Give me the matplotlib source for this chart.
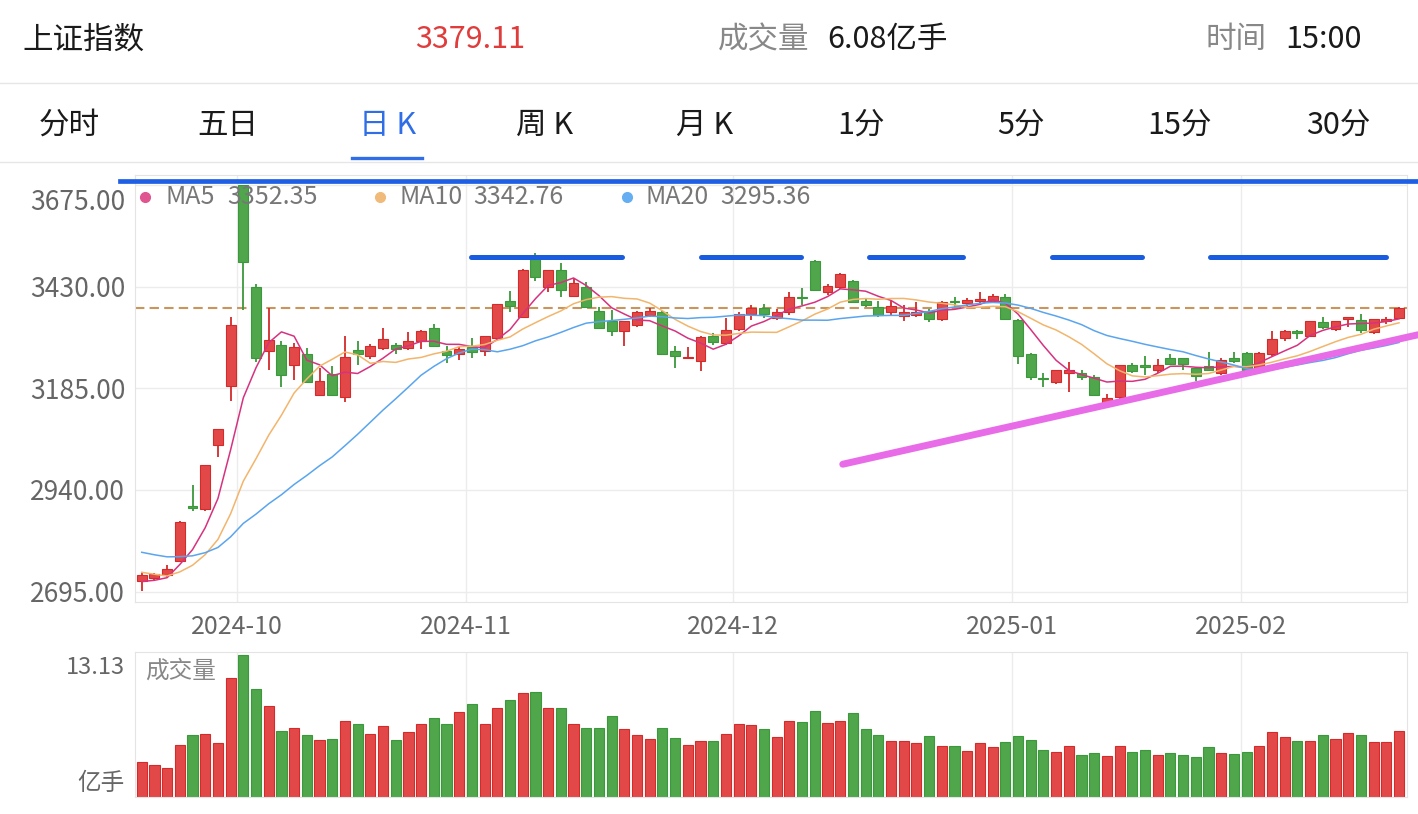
import numpy as np
import pandas as pd
import matplotlib
matplotlib.use('Agg')
import matplotlib.pyplot as plt
from matplotlib.lines import Line2D
from matplotlib.transforms import ScaledTranslation

plt.rcParams['font.family'] = ['Noto Sans CJK SC', 'DejaVu Sans']

# ---- data (上证指数 daily K, 2024-09-19 .. 2025-02-21) ----
dates = ['09-19', '09-20', '09-23', '09-24', '09-25', '09-26', '09-27', '09-30',
         '10-08', '10-09', '10-10', '10-11', '10-14', '10-15', '10-16', '10-17', '10-18',
         '10-21', '10-22', '10-23', '10-24', '10-25', '10-28', '10-29', '10-30', '10-31',
         '11-01', '11-04', '11-05', '11-06', '11-07', '11-08', '11-11', '11-12', '11-13',
         '11-14', '11-15', '11-18', '11-19', '11-20', '11-21', '11-22', '11-25', '11-26',
         '11-27', '11-28', '11-29',
         '12-02', '12-03', '12-04', '12-05', '12-06', '12-09', '12-10', '12-11', '12-12',
         '12-13', '12-16', '12-17', '12-18', '12-19', '12-20', '12-23', '12-24', '12-25',
         '12-26', '12-27', '12-30', '12-31',
         '01-02', '01-03', '01-06', '01-07', '01-08', '01-09', '01-10', '01-13', '01-14',
         '01-15', '01-16', '01-17', '01-20', '01-21', '01-22', '01-23', '01-24', '01-27',
         '02-05', '02-06', '02-07', '02-10', '02-11', '02-12', '02-13', '02-14', '02-17',
         '02-18', '02-19', '02-20', '02-21']

open_ = np.array([2721, 2729, 2735, 2770, 2901, 2893, 3049, 3190,
                  3674, 3428, 3276, 3290, 3240, 3267, 3170, 3219, 3165,
                  3277, 3263, 3283, 3290, 3281, 3298, 3330, 3274, 3267,
                  3285, 3275, 3306, 3396, 3358, 3496, 3430, 3470, 3407,
                  3430, 3371, 3346, 3323, 3337, 3362, 3370, 3276, 3257,
                  3251, 3310, 3295,
                  3328, 3363, 3378, 3355, 3370, 3405, 3492, 3416, 3430,
                  3444, 3395, 3382, 3370, 3360, 3362, 3371, 3352, 3396,
                  3390, 3396, 3396, 3406,
                  3350, 3268, 3210, 3200, 3221, 3222, 3212, 3150, 3163,
                  3240, 3242, 3228, 3258, 3257, 3233, 3239, 3222, 3259,
                  3271, 3232, 3267, 3306, 3324, 3312, 3345, 3328, 3351,
                  3350, 3320, 3346, 3354], dtype=float)
high = np.array([2740, 2741, 2758, 2866, 2952, 3001, 3088, 3358,
                 3674, 3437, 3378, 3298, 3294, 3283, 3233, 3239, 3312,
                 3300, 3291, 3330, 3294, 3320, 3325, 3339, 3287, 3285,
                 3306, 3312, 3388, 3420, 3472, 3510, 3471, 3488, 3450,
                 3441, 3382, 3374, 3347, 3372, 3378, 3372, 3286, 3285,
                 3311, 3318, 3355,
                 3368, 3386, 3387, 3376, 3418, 3426, 3494, 3437, 3463,
                 3445, 3402, 3395, 3398, 3386, 3392, 3375, 3396, 3406,
                 3402, 3418, 3412, 3413,
                 3352, 3270, 3222, 3230, 3249, 3228, 3216, 3171, 3242,
                 3245, 3264, 3255, 3267, 3258, 3235, 3273, 3259, 3273,
                 3272, 3272, 3324, 3325, 3326, 3348, 3358, 3348, 3358,
                 3364, 3353, 3356, 3382], dtype=float)
low = np.array([2697, 2722, 2730, 2766, 2889, 2889, 3020, 3155,
                3374, 3249, 3229, 3189, 3205, 3198, 3167, 3168, 3152,
                3240, 3255, 3278, 3267, 3277, 3280, 3285, 3245, 3253,
                3257, 3264, 3300, 3368, 3355, 3444, 3418, 3404, 3405,
                3378, 3328, 3310, 3286, 3332, 3357, 3265, 3233, 3255,
                3227, 3290, 3290,
                3322, 3350, 3355, 3350, 3362, 3386, 3420, 3410, 3425,
                3390, 3380, 3358, 3362, 3347, 3358, 3345, 3348, 3380,
                3384, 3388, 3390, 3350,
                3243, 3206, 3187, 3195, 3177, 3206, 3168, 3141, 3160,
                3222, 3217, 3222, 3240, 3229, 3203, 3226, 3218, 3246,
                3226, 3226, 3264, 3299, 3304, 3308, 3328, 3324, 3333,
                3318, 3315, 3340, 3353], dtype=float)
close = np.array([2736.02, 2736.81, 2748.92, 2863.13, 2896.31, 3000.95, 3087.53, 3336.50,
                  3489.78, 3258.86, 3301.93, 3217.74, 3284.32, 3201.29, 3202.95, 3169.38, 3261.56,
                  3268.11, 3285.87, 3302.80, 3280.26, 3299.70, 3322.20, 3286.41, 3266.24, 3279.82,
                  3272.01, 3310.21, 3386.99, 3383.81, 3470.66, 3452.30, 3470.07, 3421.97, 3439.28,
                  3379.84, 3330.73, 3323.85, 3346.01, 3367.99, 3370.40, 3267.19, 3263.76, 3259.76,
                  3309.78, 3295.70, 3326.46,
                  3363.98, 3378.81, 3364.65, 3368.07, 3404.08, 3402.53, 3422.66, 3432.49, 3461.50,
                  3391.88, 3386.33, 3361.49, 3382.21, 3370.03, 3368.07, 3351.26, 3393.53, 3393.35,
                  3398.08, 3400.14, 3407.33, 3351.76,
                  3262.56, 3211.43, 3206.92, 3229.64, 3230.17, 3211.39, 3168.52, 3160.76, 3240.94,
                  3227.12, 3236.03, 3241.82, 3244.38, 3242.62, 3213.62, 3230.16, 3252.63, 3250.60,
                  3229.49, 3270.66, 3303.67, 3322.17, 3318.06, 3346.39, 3332.48, 3346.72, 3355.83,
                  3324.49, 3351.54, 3350.78, 3379.11])
# closes before the window (2024-08-21 .. 09-18), needed for the moving averages
pre_close = np.array([2856.58, 2848.77, 2854.37, 2855.52, 2848.73, 2837.43, 2823.11, 2842.21,
                      2811.04, 2802.98, 2784.28, 2788.31, 2765.81, 2736.49, 2744.19, 2721.80,
                      2717.12, 2704.09, 2717.28])
volume = np.array([3.23, 2.98, 2.68, 4.83, 5.72, 5.78, 4.95, 11.01,
                   13.13, 9.93, 8.36, 6.09, 6.33, 5.69, 5.23, 5.35, 6.98,
                   6.70, 5.78, 6.52, 5.23, 5.97, 6.77, 7.29, 6.70, 7.87,
                   8.55, 6.70, 8.24, 8.98, 9.59, 9.66, 8.18, 8.18, 6.77,
                   6.33, 6.33, 7.44, 6.30, 5.72, 5.35, 6.33, 5.44, 4.77,
                   5.14, 5.14, 5.84,
                   6.70, 6.64, 6.24, 5.50, 6.98, 6.95, 7.96, 6.83, 7.01,
                   7.78, 6.27, 5.72, 5.14, 5.14, 4.95, 5.60, 4.74, 4.74,
                   4.27, 5.01, 4.58, 5.04,
                   5.66, 5.23, 4.37, 4.12, 4.74, 3.84, 4.09, 3.75, 4.74,
                   4.12, 4.37, 3.87, 4.09, 3.91, 3.69, 4.64, 4.03, 3.94,
                   4.12, 4.67, 6.03, 5.50, 5.14, 5.17, 5.72, 5.35, 5.93,
                   5.69, 5.04, 5.07, 6.08])

price_ticks = [2695, 2940, 3185, 3430, 3675]
month_first = ['10-08', '11-01', '12-02', '01-02', '02-05']
month_labels = ['2024-10', '2024-11', '2024-12', '2025-01', '2025-02']
tabs = ['分时', '五日', '日 K', '周 K', '月 K', '1分', '5分', '15分', '30分']

# hand-drawn annotations (bar index, price)
top_line = (-1.7, 100.5, 3685)
resist_level = 3501
resist_segments = [(25.9, 37.8), (44.0, 51.9), (57.3, 64.7), (71.7, 78.8), (84.1, 98.0)]
trend_pts = [(55.2, 3002), (100.5, 3314)]

# ---- figure ----
W, H = 1418, 814
fig = plt.figure(figsize=(W / 100, H / 100), dpi=100)


def fx(px):
    return px / W


def fy(py):
    return 1 - py / H


RED, GREEN = '#e34848', '#4fa64b'
RED_E, GREEN_E = '#d42a2a', '#3c983c'
GRID = '#ececec'
HS = 22  # header font size

# header
fig.text(fx(22), fy(40), '上证指数', fontsize=HS, color='#1a1a1a', va='center')
fig.text(fx(470), fy(40), f'{close[-1]:.2f}', fontsize=HS, color='#e03c3c', va='center', ha='center')
fig.text(fx(718), fy(40), '成交量', fontsize=HS, color='#888888', va='center')
fig.text(fx(827), fy(40), f'{volume[-1]:.2f}亿手', fontsize=HS, color='#1a1a1a', va='center')
fig.text(fx(1205), fy(40), '时间', fontsize=HS, color='#888888', va='center')
fig.text(fx(1285), fy(40), '15:00', fontsize=HS, color='#1a1a1a', va='center')
for yy in (83, 162):
    fig.add_artist(Line2D([0, 1], [fy(yy), fy(yy)], transform=fig.transFigure, color='#e6e6e6', lw=1))

tab_x = [69, 228, 388, 545, 705, 861, 1021, 1179, 1338]
for t, xx in zip(tabs, tab_x):
    fig.text(fx(xx), fy(125), t, fontsize=HS, color='#2f6ee6' if t == '日 K' else '#1a1a1a',
             va='center', ha='center')
fig.add_artist(Line2D([fx(352), fx(422)], [fy(158), fy(158)], transform=fig.transFigure,
                      color='#2f6ee6', lw=2.4))

# ---- price axes ----
ax = fig.add_axes([fx(135), fy(602), fx(1407 - 135), (602 - 175) / H])
x = np.arange(len(close))
up = close >= open_
cols = np.where(up, RED, GREEN)
ecols = np.where(up, RED_E, GREEN_E)

allc = pd.Series(np.concatenate([pre_close, close]))
n0 = len(pre_close)
ma5 = allc.rolling(5).mean().values[n0:]
ma10 = allc.rolling(10).mean().values[n0:]
ma20 = allc.rolling(20).mean().values[n0:]

ax.vlines(x, low, high, colors=ecols, linewidth=1.3, zorder=3)
body_h = np.maximum(np.abs(close - open_), 2.0)
ax.bar(x, body_h, bottom=np.minimum(open_, close), width=0.78, color=cols,
       edgecolor=ecols, linewidth=0.8, zorder=4)

ax.plot(x, ma5, color='#d6327f', lw=1.1, zorder=5)
ax.plot(x, ma10, color='#f2b56b', lw=1.1, zorder=5)
ax.plot(x, ma20, color='#5aa5ee', lw=1.1, zorder=5)

ax.axhline(close[-1], color='#c9955c', lw=1.5, ls=(0, (4.5, 2.5)), zorder=2)

ax.set_xlim(-0.53, 99.63)
ax.set_ylim(2670, 3699)
ax.set_yticks(price_ticks)
ax.set_yticklabels([f'{v:.2f}' for v in price_ticks])
month_pos = [dates.index(d) - 0.47 for d in month_first]
ax.set_xticks(month_pos)
ax.set_xticklabels(month_labels)
ax.tick_params(length=0, labelcolor='#666666')
ax.tick_params(axis='y', pad=7, labelsize=19)
ax.tick_params(axis='x', pad=9, labelsize=18)
ax.grid(True, color=GRID, lw=1)
ax.set_axisbelow(True)
for s in ax.spines.values():
    s.set_color('#e4e4e4')
top_lab = ax.get_yticklabels()[-1]
top_lab.set_transform(top_lab.get_transform() + ScaledTranslation(0, -0.15, fig.dpi_scale_trans))

# annotations
ax.plot([top_line[0], top_line[1]], [top_line[2]] * 2, color='#1f5fe6', lw=3.4,
        clip_on=False, zorder=6)
for a, b in resist_segments:
    ax.plot([a, b], [resist_level] * 2, color='#1a5ce0', lw=3.6, solid_capstyle='round', zorder=6)
ax.plot([p[0] for p in trend_pts], [p[1] for p in trend_pts], color='#e86be8', lw=5,
        solid_capstyle='round', clip_on=False, zorder=6)

# legend
leg = [('MA5', ma5[-1], '#e0558f', 145, 165, 227),
       ('MA10', ma10[-1], '#f0bb7a', 380, 400, 473),
       ('MA20', ma20[-1], '#66aef2', 627, 645, 720)]
for name, val, c, xd, xn, xv in leg:
    fig.add_artist(Line2D([fx(xd)], [fy(197)], transform=fig.transFigure, marker='o',
                          markersize=7, color=c, lw=0))
    fig.text(fx(xn), fy(197), name, fontsize=18, color='#777777', va='center')
    fig.text(fx(xv), fy(197), f'{val:.2f}', fontsize=18, color='#777777', va='center')

# ---- volume axes ----
axv = fig.add_axes([fx(135), fy(797), fx(1407 - 135), (797 - 652) / H])
axv.bar(x, volume, width=0.8, color=cols, edgecolor=ecols, linewidth=0.8)
axv.set_xlim(-0.53, 99.63)
axv.set_ylim(0, volume.max() * 145 / 142.4)
axv.set_xticks([])
axv.set_yticks([])
for p in month_pos:
    axv.axvline(p, color=GRID, lw=1, zorder=0)
for s in axv.spines.values():
    s.set_color('#e4e4e4')
fig.text(fx(125), fy(668), f'{volume.max():.2f}', fontsize=17, color='#666666', va='center', ha='right')
fig.text(fx(125), fy(783), '亿手', fontsize=17, color='#666666', va='center', ha='right')
fig.text(fx(145), fy(671), '成交量', fontsize=17, color='#888888', va='center')

fig.savefig('out.png', dpi=100)
